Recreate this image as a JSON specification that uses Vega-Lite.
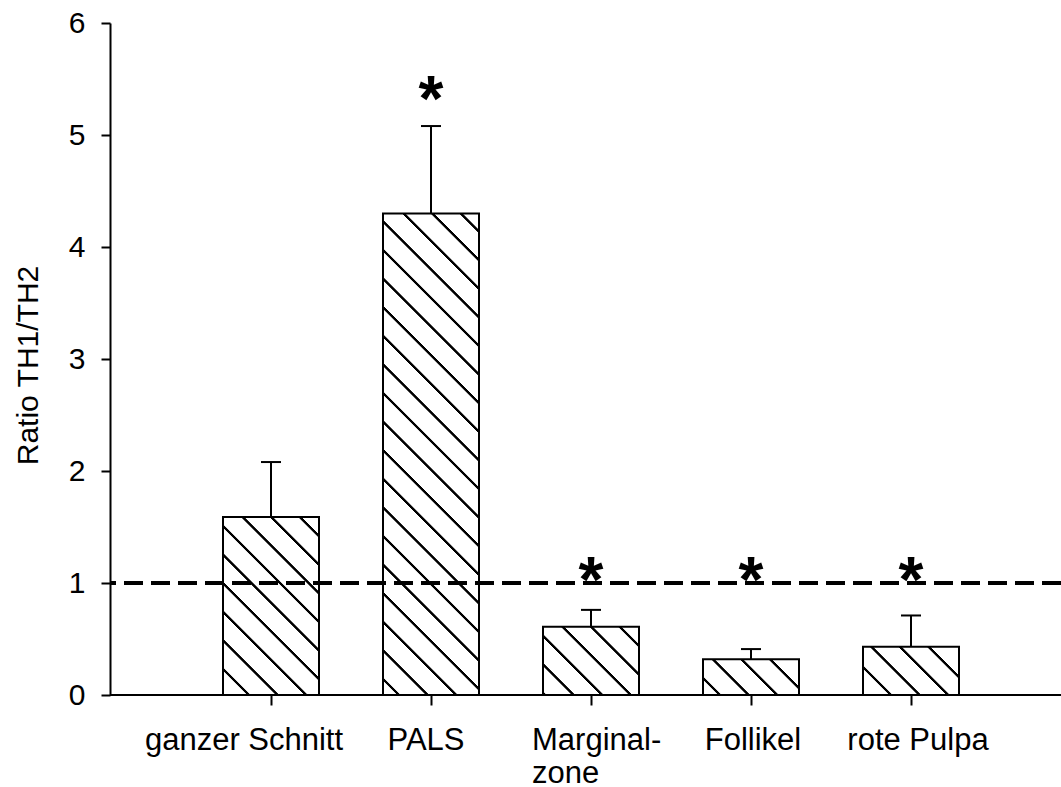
{
  "$schema": "https://vega.github.io/schema/vega-lite/v6.json",
  "width": 951,
  "height": 672,
  "autosize": "none",
  "padding": {"left": 110, "top": 23, "right": 0, "bottom": 92},
  "background": "white",
  "config": {
    "view": {"stroke": null},
    "font": "Liberation Sans",
    "axis": {
      "grid": false,
      "domainColor": "black",
      "tickColor": "black",
      "labelColor": "black",
      "titleColor": "black",
      "labelFont": "Liberation Sans",
      "titleFont": "Liberation Sans"
    }
  },
  "datasets": {
    "ratios": [
      {"region": "ganzer Schnitt", "mean": 1.59, "upper": 2.08},
      {"region": "PALS", "mean": 4.30, "upper": 5.08},
      {"region": "Marginal-zone", "mean": 0.61, "upper": 0.76},
      {"region": "Follikel", "mean": 0.32, "upper": 0.41},
      {"region": "rote Pulpa", "mean": 0.43, "upper": 0.71}
    ],
    "stars": [
      {"region": "PALS", "pos": 5.39, "label": "*"},
      {"region": "Marginal-zone", "pos": 1.10, "label": "*"},
      {"region": "Follikel", "pos": 1.10, "label": "*"},
      {"region": "rote Pulpa", "pos": 1.10, "label": "*"}
    ]
  },
  "encoding": {
    "x": {
      "field": "region",
      "type": "nominal",
      "sort": null,
      "scale": {
        "type": "band",
        "domain": ["ganzer Schnitt", "PALS", "Marginal-zone", "Follikel", "rote Pulpa"],
        "range": [81, 881],
        "paddingInner": 0.4,
        "paddingOuter": 0.2
      },
      "axis": {
        "title": null,
        "domain": false,
        "ticks": true,
        "tickSize": 10,
        "tickWidth": 2,
        "labelAngle": 0,
        "labelFontSize": 31,
        "labelPadding": 20,
        "labelBaseline": "top",
        "labelLineHeight": 33,
        "labelLimit": 600,
        "labelOverlap": false,
        "labelBound": false,
        "labelExpr": "datum.value === 'Marginal-zone' ? ['Marginal-', 'zone'] : datum.label",
        "labelAlign": {"condition": {"test": "datum.value === 'Marginal-zone'", "value": "left"}, "value": "center"},
        "labelOffset": {
          "condition": [
            {"test": "datum.value === 'ganzer Schnitt'", "value": -27},
            {"test": "datum.value === 'PALS'", "value": -5},
            {"test": "datum.value === 'Marginal-zone'", "value": -59},
            {"test": "datum.value === 'Follikel'", "value": 2},
            {"test": "datum.value === 'rote Pulpa'", "value": 7}
          ],
          "value": 0
        }
      }
    }
  },
  "layer": [
    {
      "data": {"name": "ratios"},
      "transform": [{"filter": "datum.region === 'ganzer Schnitt'"}],
      "mark": {
        "type": "bar",
        "stroke": "black",
        "strokeWidth": 2,
        "fill": {
          "gradient": "linear", "x1": 0, "y1": 1, "x2": 0.64287, "y2": -0.19253,
          "stops": [
            {"offset": 0, "color": "white"},
            {"offset": 0.0872, "color": "white"}, {"offset": 0.0901, "color": "black"}, {"offset": 0.0996, "color": "black"}, {"offset": 0.1025, "color": "white"},
            {"offset": 0.1916, "color": "white"}, {"offset": 0.1945, "color": "black"}, {"offset": 0.2040, "color": "black"}, {"offset": 0.2069, "color": "white"},
            {"offset": 0.2959, "color": "white"}, {"offset": 0.2988, "color": "black"}, {"offset": 0.3083, "color": "black"}, {"offset": 0.3112, "color": "white"},
            {"offset": 0.4003, "color": "white"}, {"offset": 0.4032, "color": "black"}, {"offset": 0.4127, "color": "black"}, {"offset": 0.4156, "color": "white"},
            {"offset": 0.5046, "color": "white"}, {"offset": 0.5075, "color": "black"}, {"offset": 0.5170, "color": "black"}, {"offset": 0.5199, "color": "white"},
            {"offset": 0.6090, "color": "white"}, {"offset": 0.6119, "color": "black"}, {"offset": 0.6214, "color": "black"}, {"offset": 0.6243, "color": "white"},
            {"offset": 0.7133, "color": "white"}, {"offset": 0.7162, "color": "black"}, {"offset": 0.7257, "color": "black"}, {"offset": 0.7286, "color": "white"},
            {"offset": 0.8177, "color": "white"}, {"offset": 0.8206, "color": "black"}, {"offset": 0.8301, "color": "black"}, {"offset": 0.8330, "color": "white"},
            {"offset": 0.9220, "color": "white"}, {"offset": 0.9249, "color": "black"}, {"offset": 0.9344, "color": "black"}, {"offset": 0.9373, "color": "white"},
            {"offset": 1, "color": "white"}
          ]
        }
      },
      "encoding": {
        "y": {
          "field": "mean", "type": "quantitative", "title": "Ratio TH1/TH2",
          "scale": {"domain": [0, 6], "nice": false, "zero": true},
          "axis": {"values": [0, 1, 2, 3, 4, 5, 6], "format": "d", "domain": true, "domainWidth": 2, "tickSize": 9, "tickWidth": 2, "labelFontSize": 30, "labelPadding": 16, "titleFontSize": 30, "titleFontWeight": "normal", "titlePadding": 25, "titleY": 342}
        }
      }
    },
    {
      "data": {"name": "ratios"},
      "transform": [{"filter": "datum.region === 'PALS'"}],
      "mark": {
        "type": "bar",
        "stroke": "black",
        "strokeWidth": 2,
        "fill": {
          "gradient": "linear", "x1": 0, "y1": 1, "x2": 0.22993, "y2": -0.15350,
          "stops": [
            {"offset": 0, "color": "white"},
            {"offset": 0.0241, "color": "white"}, {"offset": 0.0255, "color": "black"}, {"offset": 0.0300, "color": "black"}, {"offset": 0.0313, "color": "white"},
            {"offset": 0.0736, "color": "white"}, {"offset": 0.0750, "color": "black"}, {"offset": 0.0795, "color": "black"}, {"offset": 0.0809, "color": "white"},
            {"offset": 0.1231, "color": "white"}, {"offset": 0.1245, "color": "black"}, {"offset": 0.1290, "color": "black"}, {"offset": 0.1304, "color": "white"},
            {"offset": 0.1726, "color": "white"}, {"offset": 0.1740, "color": "black"}, {"offset": 0.1785, "color": "black"}, {"offset": 0.1799, "color": "white"},
            {"offset": 0.2221, "color": "white"}, {"offset": 0.2235, "color": "black"}, {"offset": 0.2280, "color": "black"}, {"offset": 0.2294, "color": "white"},
            {"offset": 0.2716, "color": "white"}, {"offset": 0.2730, "color": "black"}, {"offset": 0.2775, "color": "black"}, {"offset": 0.2789, "color": "white"},
            {"offset": 0.3212, "color": "white"}, {"offset": 0.3225, "color": "black"}, {"offset": 0.3270, "color": "black"}, {"offset": 0.3284, "color": "white"},
            {"offset": 0.3707, "color": "white"}, {"offset": 0.3721, "color": "black"}, {"offset": 0.3766, "color": "black"}, {"offset": 0.3779, "color": "white"},
            {"offset": 0.4202, "color": "white"}, {"offset": 0.4216, "color": "black"}, {"offset": 0.4261, "color": "black"}, {"offset": 0.4275, "color": "white"},
            {"offset": 0.4697, "color": "white"}, {"offset": 0.4711, "color": "black"}, {"offset": 0.4756, "color": "black"}, {"offset": 0.4770, "color": "white"},
            {"offset": 0.5192, "color": "white"}, {"offset": 0.5206, "color": "black"}, {"offset": 0.5251, "color": "black"}, {"offset": 0.5265, "color": "white"},
            {"offset": 0.5687, "color": "white"}, {"offset": 0.5701, "color": "black"}, {"offset": 0.5746, "color": "black"}, {"offset": 0.5760, "color": "white"},
            {"offset": 0.6182, "color": "white"}, {"offset": 0.6196, "color": "black"}, {"offset": 0.6241, "color": "black"}, {"offset": 0.6255, "color": "white"},
            {"offset": 0.6678, "color": "white"}, {"offset": 0.6691, "color": "black"}, {"offset": 0.6737, "color": "black"}, {"offset": 0.6750, "color": "white"},
            {"offset": 0.7173, "color": "white"}, {"offset": 0.7187, "color": "black"}, {"offset": 0.7232, "color": "black"}, {"offset": 0.7246, "color": "white"},
            {"offset": 0.7668, "color": "white"}, {"offset": 0.7682, "color": "black"}, {"offset": 0.7727, "color": "black"}, {"offset": 0.7741, "color": "white"},
            {"offset": 0.8163, "color": "white"}, {"offset": 0.8177, "color": "black"}, {"offset": 0.8222, "color": "black"}, {"offset": 0.8236, "color": "white"},
            {"offset": 0.8658, "color": "white"}, {"offset": 0.8672, "color": "black"}, {"offset": 0.8717, "color": "black"}, {"offset": 0.8731, "color": "white"},
            {"offset": 0.9153, "color": "white"}, {"offset": 0.9167, "color": "black"}, {"offset": 0.9212, "color": "black"}, {"offset": 0.9226, "color": "white"},
            {"offset": 0.9649, "color": "white"}, {"offset": 0.9662, "color": "black"}, {"offset": 0.9707, "color": "black"}, {"offset": 0.9721, "color": "white"},
            {"offset": 1, "color": "white"}
          ]
        }
      },
      "encoding": {
        "y": {
          "field": "mean", "type": "quantitative", "title": "Ratio TH1/TH2",
          "scale": {"domain": [0, 6], "nice": false},
          "axis": {"values": [0, 1, 2, 3, 4, 5, 6], "format": "d", "domain": true, "domainWidth": 2, "tickSize": 9, "tickWidth": 2, "labelFontSize": 30, "labelPadding": 16, "titleFontSize": 30, "titleFontWeight": "normal", "titlePadding": 25, "titleY": 342}
        }
      }
    },
    {
      "data": {"name": "ratios"},
      "transform": [{"filter": "datum.region === 'Marginal-zone'"}],
      "mark": {
        "type": "bar",
        "stroke": "black",
        "strokeWidth": 2,
        "fill": {
          "gradient": "linear", "x1": 0, "y1": 1, "x2": 1.13619, "y2": 0.19141,
          "stops": [
            {"offset": 0, "color": "white"},
            {"offset": 0.0043, "color": "black"}, {"offset": 0.0201, "color": "black"}, {"offset": 0.0250, "color": "white"},
            {"offset": 0.1734, "color": "white"}, {"offset": 0.1783, "color": "black"}, {"offset": 0.1941, "color": "black"}, {"offset": 0.1990, "color": "white"},
            {"offset": 0.3475, "color": "white"}, {"offset": 0.3524, "color": "black"}, {"offset": 0.3682, "color": "black"}, {"offset": 0.3731, "color": "white"},
            {"offset": 0.5215, "color": "white"}, {"offset": 0.5264, "color": "black"}, {"offset": 0.5422, "color": "black"}, {"offset": 0.5471, "color": "white"},
            {"offset": 0.6956, "color": "white"}, {"offset": 0.7005, "color": "black"}, {"offset": 0.7163, "color": "black"}, {"offset": 0.7212, "color": "white"},
            {"offset": 0.8696, "color": "white"}, {"offset": 0.8745, "color": "black"}, {"offset": 0.8903, "color": "black"}, {"offset": 0.8952, "color": "white"},
            {"offset": 1, "color": "white"}
          ]
        }
      },
      "encoding": {
        "y": {
          "field": "mean", "type": "quantitative", "title": "Ratio TH1/TH2",
          "scale": {"domain": [0, 6], "nice": false},
          "axis": {"values": [0, 1, 2, 3, 4, 5, 6], "format": "d", "domain": true, "domainWidth": 2, "tickSize": 9, "tickWidth": 2, "labelFontSize": 30, "labelPadding": 16, "titleFontSize": 30, "titleFontWeight": "normal", "titlePadding": 25, "titleY": 342}
        }
      }
    },
    {
      "data": {"name": "ratios"},
      "transform": [{"filter": "datum.region === 'Follikel'"}],
      "mark": {
        "type": "bar",
        "stroke": "black",
        "strokeWidth": 2,
        "fill": {
          "gradient": "linear", "x1": 0, "y1": 1, "x2": 1.20534, "y2": 0.55,
          "stops": [
            {"offset": 0, "color": "white"},
            {"offset": 0.1130, "color": "white"}, {"offset": 0.1191, "color": "black"}, {"offset": 0.1388, "color": "black"}, {"offset": 0.1449, "color": "white"},
            {"offset": 0.3299, "color": "white"}, {"offset": 0.3360, "color": "black"}, {"offset": 0.3557, "color": "black"}, {"offset": 0.3618, "color": "white"},
            {"offset": 0.5469, "color": "white"}, {"offset": 0.5529, "color": "black"}, {"offset": 0.5727, "color": "black"}, {"offset": 0.5787, "color": "white"},
            {"offset": 0.7638, "color": "white"}, {"offset": 0.7699, "color": "black"}, {"offset": 0.7896, "color": "black"}, {"offset": 0.7957, "color": "white"},
            {"offset": 1, "color": "white"}
          ]
        }
      },
      "encoding": {
        "y": {
          "field": "mean", "type": "quantitative", "title": "Ratio TH1/TH2",
          "scale": {"domain": [0, 6], "nice": false},
          "axis": {"values": [0, 1, 2, 3, 4, 5, 6], "format": "d", "domain": true, "domainWidth": 2, "tickSize": 9, "tickWidth": 2, "labelFontSize": 30, "labelPadding": 16, "titleFontSize": 30, "titleFontWeight": "normal", "titlePadding": 25, "titleY": 342}
        }
      }
    },
    {
      "data": {"name": "ratios"},
      "transform": [{"filter": "datum.region === 'rote Pulpa'"}],
      "mark": {
        "type": "bar",
        "stroke": "black",
        "strokeWidth": 2,
        "fill": {
          "gradient": "linear", "x1": 0, "y1": 1, "x2": 1.19975, "y2": 0.39812,
          "stops": [
            {"offset": 0, "color": "white"},
            {"offset": 0.1797, "color": "white"}, {"offset": 0.1852, "color": "black"}, {"offset": 0.2032, "color": "black"}, {"offset": 0.2088, "color": "white"},
            {"offset": 0.3781, "color": "white"}, {"offset": 0.3836, "color": "black"}, {"offset": 0.4016, "color": "black"}, {"offset": 0.4072, "color": "white"},
            {"offset": 0.5764, "color": "white"}, {"offset": 0.5820, "color": "black"}, {"offset": 0.6000, "color": "black"}, {"offset": 0.6056, "color": "white"},
            {"offset": 0.7748, "color": "white"}, {"offset": 0.7804, "color": "black"}, {"offset": 0.7984, "color": "black"}, {"offset": 0.8040, "color": "white"},
            {"offset": 1, "color": "white"}
          ]
        }
      },
      "encoding": {
        "y": {
          "field": "mean", "type": "quantitative", "title": "Ratio TH1/TH2",
          "scale": {"domain": [0, 6], "nice": false},
          "axis": {"values": [0, 1, 2, 3, 4, 5, 6], "format": "d", "domain": true, "domainWidth": 2, "tickSize": 9, "tickWidth": 2, "labelFontSize": 30, "labelPadding": 16, "titleFontSize": 30, "titleFontWeight": "normal", "titlePadding": 25, "titleY": 342}
        }
      }
    },
    {
      "data": {"name": "ratios"},
      "mark": {"type": "rule", "color": "black", "strokeWidth": 2},
      "encoding": {
        "y": {
          "field": "mean", "type": "quantitative", "title": "Ratio TH1/TH2",
          "scale": {"domain": [0, 6], "nice": false},
          "axis": {"values": [0, 1, 2, 3, 4, 5, 6], "format": "d", "domain": true, "domainWidth": 2, "tickSize": 9, "tickWidth": 2, "labelFontSize": 30, "labelPadding": 16, "titleFontSize": 30, "titleFontWeight": "normal", "titlePadding": 25, "titleY": 342}
        },
        "y2": {"field": "upper"}
      }
    },
    {
      "data": {"name": "ratios"},
      "mark": {"type": "tick", "color": "black", "size": 20, "thickness": 2, "orient": "horizontal", "opacity": 1},
      "encoding": {
        "y": {
          "field": "upper", "type": "quantitative", "title": "Ratio TH1/TH2",
          "scale": {"domain": [0, 6], "nice": false},
          "axis": {"values": [0, 1, 2, 3, 4, 5, 6], "format": "d", "domain": true, "domainWidth": 2, "tickSize": 9, "tickWidth": 2, "labelFontSize": 30, "labelPadding": 16, "titleFontSize": 30, "titleFontWeight": "normal", "titlePadding": 25, "titleY": 342}
        }
      }
    },
    {
      "data": {"values": [{"level": 0}]},
      "mark": {"type": "rule", "color": "black", "strokeWidth": 2},
      "encoding": {
        "x": null,
        "y": {
          "field": "level", "type": "quantitative", "title": "Ratio TH1/TH2",
          "scale": {"domain": [0, 6], "nice": false},
          "axis": {"values": [0, 1, 2, 3, 4, 5, 6], "format": "d", "domain": true, "domainWidth": 2, "tickSize": 9, "tickWidth": 2, "labelFontSize": 30, "labelPadding": 16, "titleFontSize": 30, "titleFontWeight": "normal", "titlePadding": 25, "titleY": 342}
        }
      }
    },
    {
      "data": {"values": [{"level": 1}]},
      "mark": {"type": "rule", "color": "black", "strokeWidth": 4, "strokeDash": [19, 8]},
      "encoding": {
        "x": null,
        "y": {
          "field": "level", "type": "quantitative", "title": "Ratio TH1/TH2",
          "scale": {"domain": [0, 6], "nice": false},
          "axis": {"values": [0, 1, 2, 3, 4, 5, 6], "format": "d", "domain": true, "domainWidth": 2, "tickSize": 9, "tickWidth": 2, "labelFontSize": 30, "labelPadding": 16, "titleFontSize": 30, "titleFontWeight": "normal", "titlePadding": 25, "titleY": 342}
        }
      }
    },
    {
      "data": {"name": "stars"},
      "mark": {"type": "text", "font": "Liberation Sans", "fontWeight": "bold", "fontSize": 64, "baseline": "alphabetic", "align": "center", "dy": 30, "color": "black"},
      "encoding": {
        "y": {
          "field": "pos", "type": "quantitative", "title": "Ratio TH1/TH2",
          "scale": {"domain": [0, 6], "nice": false},
          "axis": {"values": [0, 1, 2, 3, 4, 5, 6], "format": "d", "domain": true, "domainWidth": 2, "tickSize": 9, "tickWidth": 2, "labelFontSize": 30, "labelPadding": 16, "titleFontSize": 30, "titleFontWeight": "normal", "titlePadding": 25, "titleY": 342}
        },
        "text": {"field": "label"}
      }
    }
  ]
}
